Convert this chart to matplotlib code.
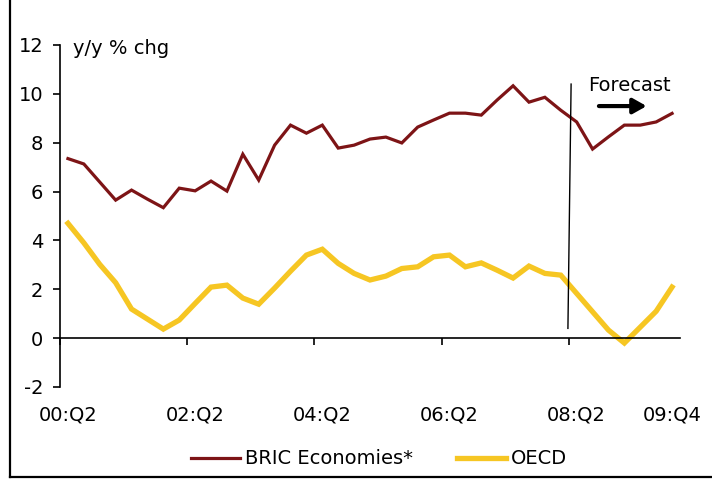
import matplotlib
matplotlib.use("Agg")
import matplotlib.pyplot as plt
from matplotlib.lines import Line2D
import numpy as np

# ---- data ----
quarters = [f"{y:02d}:Q{q}" for y in range(0, 10) for q in range(1, 5)][1:]  # 00:Q2 .. 09:Q4
bric = [7.35, 7.13, 6.39, 5.65, 6.06, 5.69, 5.34, 6.14, 6.03, 6.43,
        6.02, 7.53, 6.47, 7.90, 8.72, 8.39, 8.72, 7.78, 7.90, 8.15,
        8.23, 7.99, 8.64, 8.93, 9.21, 9.21, 9.13, 9.75, 10.33, 9.66,
        9.86, 9.33, 8.85, 7.74, 8.24, 8.72, 8.72, 8.85, 9.20]
oecd = [4.70, 3.90, 3.02, 2.27, 1.19, 0.78, 0.37, 0.74, 1.42, 2.09,
        2.17, 1.64, 1.39, 2.05, 2.74, 3.40, 3.64, 3.06, 2.65, 2.38,
        2.54, 2.85, 2.92, 3.33, 3.40, 2.92, 3.08, 2.78, 2.46, 2.95,
        2.65, 2.58, 1.83, 1.08, 0.33, -0.20, 0.45, 1.10, 2.09]
label_quarters = ["00:Q2", "02:Q2", "04:Q2", "06:Q2", "08:Q2", "09:Q4"]
yticks = [-2, 0, 2, 4, 6, 8, 10, 12]

BRIC_C = "#7D1416"
OECD_C = "#F6C623"
FS = 14

fig = plt.figure(figsize=(7.12, 4.79), dpi=100)
ax = fig.add_axes([60/712, 92/479, 620/712, 342/479])
x = np.arange(len(quarters))

ax.plot(x, bric, color=BRIC_C, lw=2.3, solid_joinstyle="miter", label="BRIC Economies*")
ax.plot(x, oecd, color=OECD_C, lw=3.8, solid_joinstyle="miter", label="OECD")

ax.set_xlim(-0.5, len(quarters) - 0.5)
ax.set_ylim(-2, 12)
ax.set_yticks(yticks)
ax.set_yticklabels([str(v) for v in yticks], fontsize=FS)
ax.tick_params(axis="y", direction="out", length=5, width=1.2, pad=7, colors="black")

# x axis at zero with ticks between categories
ax.spines["top"].set_visible(False)
ax.spines["right"].set_visible(False)
ax.spines["bottom"].set_position(("data", 0))
ax.spines["bottom"].set_linewidth(1.2)
ax.spines["left"].set_linewidth(1.2)
ax.set_xticks(np.arange(-0.5, len(quarters) - 1, 8))
ax.set_xticklabels([])
ax.tick_params(axis="x", direction="out", length=5, width=1.2)

for lab in label_quarters:
    i = quarters.index(lab)
    ax.text(i, -0.082, lab, transform=ax.get_xaxis_transform(),
            ha="center", va="center", fontsize=FS)

ax.text(0.021, 0.99, "y/y % chg", transform=ax.transAxes, ha="left", va="center", fontsize=FS)

# forecast marker
fc = quarters.index("08:Q2") - 0.5
ax.plot([fc + 0.15, fc - 0.05], [10.4, 0.4], color="black", lw=1.0)
ax.text(fc + 3.8, 10.35, "Forecast", ha="center", va="center", fontsize=FS)
ax.annotate("", xy=(fc + 4.9, 9.5), xytext=(fc + 1.9, 9.5),
            arrowprops=dict(arrowstyle="-|>,head_length=0.8,head_width=0.45",
                            color="black", lw=3, shrinkA=0, shrinkB=0))

# legend
fig.legend(handles=[Line2D([], [], color=BRIC_C, lw=2.3), Line2D([], [], color=OECD_C, lw=3.8)],
           labels=["BRIC Economies*", "OECD"], loc="center", bbox_to_anchor=(379/712, 20/479),
           ncol=2, frameon=False, fontsize=FS, handlelength=2.5, handletextpad=0.25,
           columnspacing=2.3)

# figure border (left & bottom)
fig.add_artist(Line2D([10/712, 10/712], [2/479, 1], transform=fig.transFigure, color="black", lw=1.6))
fig.add_artist(Line2D([10/712, 1], [2/479, 2/479], transform=fig.transFigure, color="black", lw=1.6))

fig.savefig("out.png", dpi=100)
